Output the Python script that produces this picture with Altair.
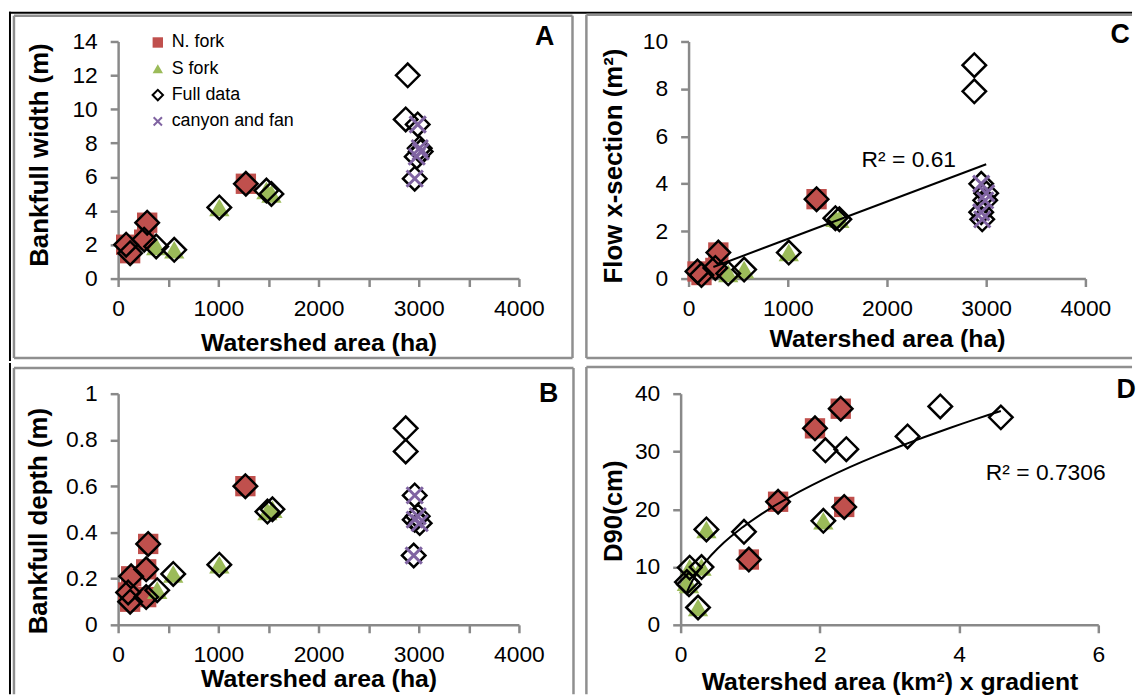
import altair as alt
import pandas as pd

FONT = "Liberation Sans"
SERIES = ["N. fork", "S fork", "Full data", "canyon and fan"]
SHAPES = ["square", "triangle-up", "diamond", "M-0.8,-0.8L0.8,0.8M-0.8,0.8L0.8,-0.8"]
FILLS = ["#C0504D", "#9BBB59", "transparent", "transparent"]
STROKES = ["transparent", "transparent", "#000000", "#8064A2"]
AXIS_GRAY = "#898989"
FRAME_GRAY = "#8f8f8f"

# ---- Panel A: bankfull width (m) vs watershed area (ha)
A_N_X = [1275, 290, 260, 80, 120]
A_N_Y = [5.6, 3.3, 2.3, 2.0, 1.5]
A_S_X = [380, 560, 1010, 1480, 1530]
A_S_Y = [1.9, 1.7, 4.2, 5.2, 5.0]
A_O_X = [2890, 2870]
A_O_Y = [12.0, 9.4]
A_C_X = [2990, 3010, 2980, 2960, 3020]
A_C_Y = [9.1, 7.7, 7.2, 5.9, 7.5]

# ---- Panel B: bankfull depth (m)
B_N_X = [1270, 300, 280, 130, 100, 120, 280]
B_N_Y = [0.60, 0.35, 0.24, 0.21, 0.14, 0.10, 0.12]
B_S_X = [390, 550, 1010, 1490, 1540]
B_S_Y = [0.15, 0.22, 0.26, 0.49, 0.50]
B_O_X = [2870, 2870]
B_O_Y = [0.85, 0.75]
B_C_X = [2960, 2990, 2960, 3010, 2950]
B_C_Y = [0.56, 0.47, 0.455, 0.44, 0.30]

# ---- Panel C: flow cross-section (m2)
C_N_X = [1290, 300, 270, 90, 130]
C_N_Y = [3.35, 1.1, 0.45, 0.3, 0.15]
C_S_X = [1480, 1520, 1010, 560, 400]
C_S_Y = [2.55, 2.5, 1.1, 0.38, 0.22]
C_O_X = [2880, 2880]
C_O_Y = [9.0, 7.9]
C_C_X = [2950, 3000, 2990, 2950, 2960]
C_C_Y = [4.0, 3.6, 3.3, 2.8, 2.5]

# ---- Panel D: D90 (cm) vs watershed area (km2) x gradient
D_N_X = [2.30, 1.93, 1.40, 2.35, 0.98]
D_N_Y = [37.4, 34.0, 21.3, 20.4, 11.3]
D_S_X = [0.37, 2.05, 0.13, 0.30, 0.09, 0.12, 0.25]
D_S_Y = [16.5, 18.0, 9.9, 10.0, 7.4, 7.0, 3.0]
D_O_X = [2.08, 2.38, 3.26, 3.73, 4.60, 0.91]
D_O_Y = [30.2, 30.4, 32.6, 37.8, 35.9, 16.1]
D_C_X = []
D_C_Y = []

# ---- Axis ticks / labels
AB_X_TICKS = [0, 500, 1000, 1500, 2000, 2500, 3000, 3500, 4000]
C_X_TICKS = [0, 1000, 2000, 3000, 4000]
AREA_X_LABELS = [0, 1000, 2000, 3000, 4000]
D_X_TICKS = [0, 2, 4, 6]
A_Y_TICKS = [0, 2, 4, 6, 8, 10, 12, 14]
B_Y_TICKS = [0, 0.2, 0.4, 0.6, 0.8, 1]
C_Y_TICKS = [0, 2, 4, 6, 8, 10]
D_Y_TICKS = [0, 10, 20, 30, 40]

R2_C = "R² = 0.61"
R2_D = "R² = 0.7306"


def make_df(nx, ny, sx, sy, ox, oy, cx, cy):
    rows = []
    rows += [{"x": x, "y": y, "series": "N. fork"} for x, y in zip(nx, ny)]
    rows += [{"x": x, "y": y, "series": "S fork"} for x, y in zip(sx, sy)]
    full = list(zip(nx, ny)) + list(zip(sx, sy)) + list(zip(ox, oy)) + list(zip(cx, cy))
    rows += [{"x": x, "y": y, "series": "Full data"} for x, y in full]
    rows += [{"x": x, "y": y, "series": "canyon and fan"} for x, y in zip(cx, cy)]
    return pd.DataFrame(rows)


ONE = alt.Data(values=[{}])


def hline(x1, x2, y, color, w):
    return alt.Chart(ONE).mark_rule(color=color, strokeWidth=w).encode(
        x=alt.value(x1), x2=alt.value(x2), y=alt.value(y))


def vline(x, y1, y2, color, w):
    return alt.Chart(ONE).mark_rule(color=color, strokeWidth=w).encode(
        x=alt.value(x), y=alt.value(y1), y2=alt.value(y2))


def note(text, x, y, size, weight="normal"):
    return alt.Chart(ONE).mark_text(text=text, font=FONT, fontSize=size, fontWeight=weight,
                                    color="black", align="center", baseline="middle").encode(
        x=alt.value(x), y=alt.value(y))


def panel(df, w, h, xdom, ydom, xticks, xlabels, yticks, xfmt, yfmt, xtitle, ytitle,
          xtitle_y, ytitle_x, ytitle_y, letter, letter_xy, frame, legend,
          trend=None, r2=None, xlabel_pad=11, extra=()):
    lab_expr = "indexof([" + ",".join(str(v) for v in xlabels) + "], datum.value) >= 0 ? datum.label : ''"
    xaxis = alt.Axis(values=xticks, labelExpr=lab_expr, format=xfmt, title=xtitle,
                     titleX=w / 2, titleY=xtitle_y, titleBaseline="alphabetic",
                     labelPadding=xlabel_pad)
    yaxis = alt.Axis(values=yticks, format=yfmt, title=ytitle, titleX=ytitle_x,
                     titleY=ytitle_y, titleBaseline="alphabetic")
    base = alt.Chart(df).encode(
        x=alt.X("x:Q", scale=alt.Scale(domain=xdom, nice=False, zero=False), axis=xaxis),
        y=alt.Y("y:Q", scale=alt.Scale(domain=ydom, nice=False, zero=False), axis=yaxis),
        shape=alt.Shape("series:N", scale=alt.Scale(domain=SERIES, range=SHAPES), legend=legend),
        fill=alt.Fill("series:N", scale=alt.Scale(domain=SERIES, range=FILLS), legend=legend),
        stroke=alt.Stroke("series:N", scale=alt.Scale(domain=SERIES, range=STROKES), legend=legend),
    )
    layers = list(extra)
    fl, ft, fr, fb, sides = frame
    if "t" in sides:
        layers.append(hline(fl, fr, ft, FRAME_GRAY, 2.5))
    if "l" in sides:
        layers.append(vline(fl, ft, fb, FRAME_GRAY, 2.5))
    if "r" in sides:
        layers.append(vline(fr, ft, fb, FRAME_GRAY, 2.5))
    if "b" in sides:
        layers.append(hline(fl, fr, fb, FRAME_GRAY, 2.5))
    layers.append(base.transform_filter(
        alt.FieldOneOfPredicate(field="series", oneOf=["N. fork", "S fork"])
    ).mark_point(size=420, strokeWidth=0, opacity=1))
    layers.append(base.transform_filter(alt.datum.series == "Full data").mark_point(
        size=560, strokeWidth=2.5, opacity=1))
    layers.append(base.transform_filter(alt.datum.series == "canyon and fan").mark_point(
        size=420, strokeWidth=3, opacity=1))
    if trend is not None:
        method, ext = trend
        layers.append(alt.Chart(df).transform_filter(alt.datum.series == "Full data")
                      .transform_regression("x", "y", method=method, extent=ext)
                      .mark_line(color="black", strokeWidth=2)
                      .encode(x="x:Q", y="y:Q"))
    if r2 is not None:
        layers.append(note(r2[0], r2[1], r2[2], 23))
    layers.append(note(letter, letter_xy[0], letter_xy[1], 27, "bold"))
    return alt.layer(*layers).properties(width=w, height=h)


LEG = alt.Legend(orient="none", legendX=31, legendY=-8, title=None, labelFont=FONT,
                 labelFontSize=18, labelColor="black", symbolSize=110, symbolStrokeWidth=2,
                 rowPadding=7.5, labelOffset=5, padding=0)

dfA = make_df(A_N_X, A_N_Y, A_S_X, A_S_Y, A_O_X, A_O_Y, A_C_X, A_C_Y)
dfB = make_df(B_N_X, B_N_Y, B_S_X, B_S_Y, B_O_X, B_O_Y, B_C_X, B_C_Y)
dfC = make_df(C_N_X, C_N_Y, C_S_X, C_S_Y, C_O_X, C_O_Y, C_C_X, C_C_Y)
dfD = make_df(D_N_X, D_N_Y, D_S_X, D_S_Y, D_O_X, D_O_Y, D_C_X, D_C_Y)

# outer black border of the figure (top edge and left edge, split per row)
BLACK_A = (vline(-109, -30, 322, "black", 2), hline(-110, 1022, -29, "black", 2))
BLACK_B = (vline(-109, -31, 303, "black", 2),)

pA = panel(dfA, 404, 239, [0, 4000], [0, 14], AB_X_TICKS, AREA_X_LABELS, A_Y_TICKS, "d", "d",
           "Watershed area (ha)", "Bankfull width (m)", 72, -71, 114, "A", (430, -4),
           (-105, -26, 458, 319, "tlrb"), LEG, extra=BLACK_A)

pC = panel(dfC, 400, 239, [0, 4000], [0, 10], C_X_TICKS, AREA_X_LABELS, C_Y_TICKS, "d", "d",
           "Watershed area (ha)", "Flow x-section (m²)", 68, -68, 125, "C", (435, -6),
           (-103, -27, 447, 319, "tlb"), None, trend=("linear", [250, 3000]),
           r2=(R2_C, 222, 120))

pB = panel(dfB, 404, 233, [0, 4000], [0, 1], AB_X_TICKS, AREA_X_LABELS, B_Y_TICKS, "d", ".1~f",
           "Watershed area (ha)", "Bankfull depth (m)", 62, -72, 128, "B", (434, 0),
           (-105, -26, 459, 303, "tlr"), None, extra=BLACK_B)

pD = panel(dfD, 421, 233, [0, 6], [0, 40], D_X_TICKS, D_X_TICKS, D_Y_TICKS, "d", "d",
           "Watershed area (km²) x gradient", "D90(cm)", 65, -60, 118, "D", (449, -4),
           (-95, -27, 455, 303, "tl"), None, trend=("pow", [0.08, 4.6]),
           r2=(R2_D, 368, 80), xlabel_pad=11)

IND = dict(shape="independent", fill="independent", stroke="independent")

row1 = alt.hconcat(pA, pC, spacing=171, bounds="flush").resolve_scale(**IND).resolve_legend(**IND)
row2 = alt.hconcat(pB, pD, spacing=163, bounds="flush").resolve_scale(**IND).resolve_legend(**IND)

chart = alt.vconcat(row1, row2, spacing=0).resolve_scale(**IND).resolve_legend(**IND)

chart = chart.properties(padding=0, background="white").configure_view(stroke=None).configure_axis(
    grid=False, domainColor=AXIS_GRAY, domainWidth=2.5, tickColor=AXIS_GRAY, tickWidth=2.5,
    tickSize=8, labelFont=FONT, labelFontSize=23, labelColor="black", titleFont=FONT,
    titleFontSize=25, titleFontWeight="bold", titleColor="black", labelFlush=False,
    labelOverlap=False
).configure_axisX(labelPadding=11).configure_axisY(labelPadding=13, titleFontSize=26)

chart.save("out.html", embed_options={"renderer": "svg", "actions": False})
